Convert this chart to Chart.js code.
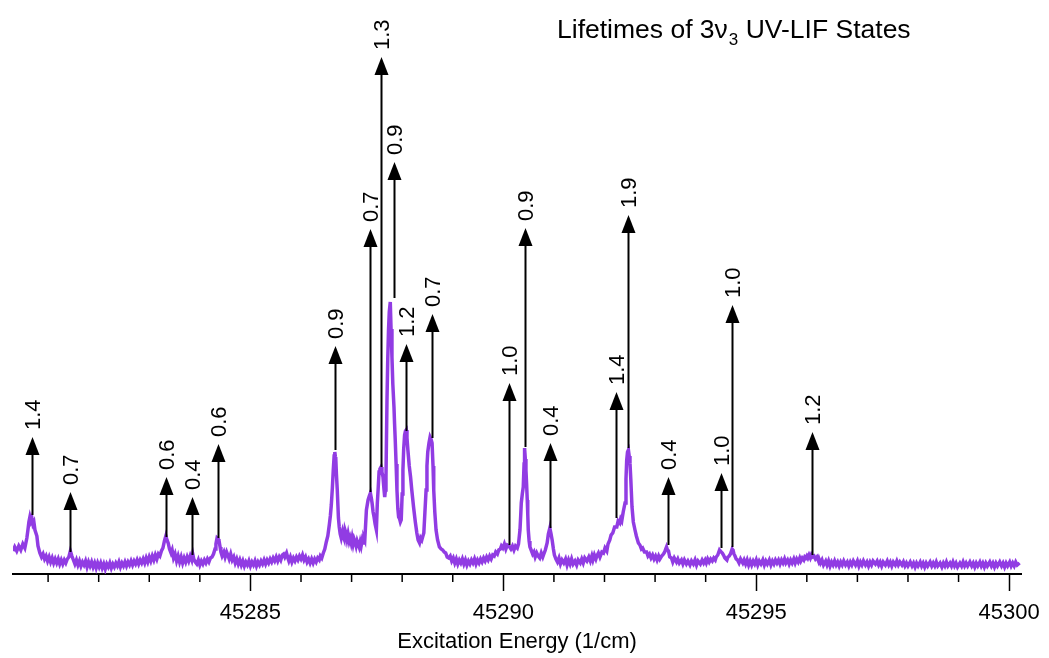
<!DOCTYPE html>
<html>
<head>
<meta charset="utf-8">
<script src="https://cdn.jsdelivr.net/npm/chart.js@4.4.1/dist/chart.umd.min.js"></script>
<style>
  html, body { margin: 0; padding: 0; background: #fff; }
  #wrap { width: 1049px; height: 658px; }
</style>
</head>
<body>
<div id="wrap"><canvas id="spec" width="1049" height="658"></canvas></div>
<script>
// LIF trace: [excitation energy (1/cm), signal (arb.)]
const spectrum = [
  [45280.306, 23], [45280.34, 27], [45280.38, 23], [45280.42, 28], [45280.46, 24], [45280.50, 30], [45280.54, 26], [45280.58, 36],
  [45280.601, 44], [45280.62, 52], [45280.640, 57], [45280.66, 53], [45280.679, 56], [45280.70, 50], [45280.719, 52], [45280.74, 44],
  [45280.778, 38], [45280.80, 28], [45280.837, 21], [45280.87, 17], [45280.90, 20], [45280.93, 15], [45280.96, 18], [45280.99, 13],
  [45281.02, 17], [45281.05, 12], [45281.08, 16], [45281.11, 11], [45281.14, 15], [45281.17, 11], [45281.20, 15], [45281.23, 10],
  [45281.26, 14], [45281.29, 10], [45281.32, 14], [45281.35, 11], [45281.38, 15], [45281.41, 17], [45281.440, 23], [45281.47, 18],
  [45281.50, 14], [45281.53, 10], [45281.56, 14], [45281.59, 9], [45281.62, 13], [45281.65, 8], [45281.68, 12], [45281.71, 9],
  [45281.74, 13], [45281.77, 7], [45281.80, 12], [45281.83, 8], [45281.86, 12], [45281.89, 7], [45281.92, 11], [45281.95, 6],
  [45281.98, 11], [45282.01, 7], [45282.04, 11], [45282.07, 6], [45282.10, 10], [45282.13, 5], [45282.16, 10], [45282.19, 7],
  [45282.22, 11], [45282.25, 6], [45282.28, 10], [45282.31, 7], [45282.34, 11], [45282.37, 8], [45282.40, 12], [45282.43, 7],
  [45282.46, 11], [45282.49, 8], [45282.52, 12], [45282.55, 8], [45282.58, 12], [45282.61, 9], [45282.64, 13], [45282.67, 9],
  [45282.70, 13], [45282.73, 10], [45282.76, 14], [45282.79, 10], [45282.82, 14], [45282.85, 11], [45282.88, 15], [45282.91, 11],
  [45282.94, 16], [45282.97, 12], [45283.00, 17], [45283.03, 13], [45283.06, 18], [45283.09, 14], [45283.12, 19], [45283.15, 15],
  [45283.18, 20], [45283.21, 18], [45283.24, 23], [45283.27, 26], [45283.30, 33], [45283.328, 38], [45283.35, 34], [45283.374, 31],
  [45283.40, 25], [45283.43, 21], [45283.452, 24], [45283.48, 16], [45283.51, 20], [45283.54, 13], [45283.57, 18], [45283.60, 12],
  [45283.63, 17], [45283.66, 11], [45283.69, 16], [45283.72, 12], [45283.75, 17], [45283.78, 13], [45283.81, 18], [45283.84, 14],
  [45283.86, 20], [45283.88, 15], [45283.91, 12], [45283.94, 10], [45283.97, 14], [45284.00, 9], [45284.03, 13], [45284.06, 10],
  [45284.09, 14], [45284.12, 11], [45284.15, 15], [45284.18, 12], [45284.21, 16], [45284.24, 17], [45284.27, 20], [45284.30, 25],
  [45284.318, 30], [45284.340, 36], [45284.36, 35], [45284.377, 34], [45284.40, 27], [45284.416, 22], [45284.44, 18], [45284.475, 22],
  [45284.50, 17], [45284.53, 22], [45284.553, 19], [45284.58, 15], [45284.61, 20], [45284.64, 14], [45284.67, 17], [45284.70, 11],
  [45284.73, 15], [45284.76, 10], [45284.79, 14], [45284.82, 9], [45284.85, 13], [45284.88, 8], [45284.91, 12], [45284.94, 9],
  [45284.97, 13], [45285.00, 8], [45285.03, 12], [45285.06, 9], [45285.09, 13], [45285.12, 8], [45285.15, 12], [45285.18, 9],
  [45285.21, 13], [45285.24, 10], [45285.27, 14], [45285.30, 10], [45285.33, 14], [45285.36, 11], [45285.39, 15], [45285.42, 12],
  [45285.45, 16], [45285.48, 13], [45285.51, 17], [45285.54, 13], [45285.57, 17], [45285.60, 14], [45285.63, 19], [45285.655, 20],
  [45285.68, 17], [45285.714, 21], [45285.74, 16], [45285.76, 13], [45285.79, 17], [45285.82, 12], [45285.85, 16], [45285.88, 13],
  [45285.91, 17], [45285.94, 14], [45285.97, 18], [45286.00, 15], [45286.03, 19], [45286.06, 14], [45286.09, 17], [45286.12, 12],
  [45286.15, 15], [45286.18, 11], [45286.21, 15], [45286.24, 11], [45286.27, 15], [45286.30, 12], [45286.33, 16], [45286.36, 14],
  [45286.382, 18], [45286.41, 16], [45286.441, 21], [45286.47, 25], [45286.500, 32], [45286.53, 38], [45286.559, 49], [45286.58, 58],
  [45286.599, 69], [45286.62, 86], [45286.638, 104], [45286.655, 118], [45286.668, 122], [45286.68, 117], [45286.687, 116], [45286.70, 100],
  [45286.717, 84], [45286.74, 56], [45286.756, 47], [45286.775, 40], [45286.795, 36], [45286.82, 42], [45286.84, 37], [45286.854, 35],
  [45286.87, 44], [45286.894, 40], [45286.91, 35], [45286.93, 40], [45286.953, 33], [45286.97, 36], [45286.992, 31], [45287.01, 36],
  [45287.03, 30], [45287.05, 35], [45287.071, 32], [45287.09, 28], [45287.11, 33], [45287.130, 30], [45287.15, 27], [45287.17, 32],
  [45287.189, 28], [45287.21, 34], [45287.23, 31], [45287.245, 36], [45287.261, 34], [45287.293, 64], [45287.326, 74], [45287.35, 78],
  [45287.372, 81], [45287.39, 76], [45287.405, 71], [45287.425, 62], [45287.444, 57], [45287.465, 50], [45287.490, 44], [45287.509, 71],
  [45287.525, 85], [45287.543, 102], [45287.56, 105], [45287.582, 107], [45287.60, 102], [45287.621, 97], [45287.64, 85], [45287.655, 77],
  [45287.668, 84], [45287.680, 97], [45287.700, 174], [45287.715, 215], [45287.730, 244], [45287.745, 262], [45287.765, 272], [45287.78, 245],
  [45287.798, 217], [45287.815, 190], [45287.838, 167], [45287.85, 150], [45287.863, 134], [45287.88, 110], [45287.897, 84], [45287.915, 65],
  [45287.930, 57], [45287.95, 55], [45287.965, 52], [45287.981, 54], [45288.00, 80], [45288.015, 104], [45288.03, 125], [45288.048, 139],
  [45288.065, 143], [45288.080, 144], [45288.095, 136], [45288.113, 124], [45288.14, 108], [45288.166, 97], [45288.19, 84], [45288.225, 67],
  [45288.26, 52], [45288.290, 41], [45288.315, 34], [45288.343, 31], [45288.365, 36], [45288.388, 34], [45288.41, 38], [45288.428, 41],
  [45288.45, 62], [45288.473, 84], [45288.49, 108], [45288.506, 122], [45288.53, 131], [45288.552, 137], [45288.57, 135], [45288.591, 131],
  [45288.61, 108], [45288.624, 84], [45288.645, 62], [45288.670, 44], [45288.70, 34], [45288.736, 27], [45288.77, 25], [45288.801, 24],
  [45288.83, 22], [45288.860, 21], [45288.89, 17], [45288.92, 16], [45288.95, 18], [45288.98, 13], [45289.01, 16], [45289.04, 11],
  [45289.07, 15], [45289.10, 10], [45289.13, 14], [45289.16, 11], [45289.19, 15], [45289.22, 10], [45289.25, 14], [45289.28, 9],
  [45289.31, 13], [45289.34, 10], [45289.37, 14], [45289.40, 11], [45289.43, 15], [45289.46, 10], [45289.49, 14], [45289.52, 11],
  [45289.55, 15], [45289.58, 12], [45289.61, 16], [45289.64, 13], [45289.67, 17], [45289.70, 14], [45289.73, 18], [45289.76, 15],
  [45289.79, 19], [45289.82, 18], [45289.85, 22], [45289.883, 20], [45289.91, 24], [45289.94, 25], [45289.962, 28], [45289.99, 26],
  [45290.02, 30], [45290.05, 25], [45290.08, 29], [45290.113, 28], [45290.15, 25], [45290.18, 28], [45290.21, 24], [45290.24, 28],
  [45290.276, 26], [45290.30, 30], [45290.329, 44], [45290.345, 60], [45290.355, 71], [45290.375, 80], [45290.394, 87], [45290.41, 110],
  [45290.420, 126], [45290.435, 115], [45290.447, 104], [45290.46, 90], [45290.473, 74], [45290.483, 60], [45290.493, 44], [45290.51, 33],
  [45290.526, 27], [45290.55, 24], [45290.58, 20], [45290.605, 22], [45290.63, 17], [45290.66, 21], [45290.689, 18], [45290.72, 16],
  [45290.75, 21], [45290.78, 17], [45290.801, 20], [45290.83, 24], [45290.866, 31], [45290.89, 40], [45290.919, 46], [45290.94, 41],
  [45290.965, 34], [45290.99, 25], [45291.01, 19], [45291.04, 15], [45291.07, 12], [45291.10, 16], [45291.13, 10], [45291.16, 14],
  [45291.195, 11], [45291.23, 15], [45291.26, 9], [45291.29, 14], [45291.32, 10], [45291.35, 15], [45291.38, 10], [45291.417, 13],
  [45291.45, 9], [45291.48, 14], [45291.521, 11], [45291.55, 15], [45291.58, 11], [45291.61, 16], [45291.653, 13], [45291.69, 17],
  [45291.72, 13], [45291.75, 18], [45291.771, 14], [45291.80, 19], [45291.83, 15], [45291.849, 18], [45291.88, 21], [45291.91, 17],
  [45291.948, 22], [45291.98, 21], [45292.01, 26], [45292.046, 23], [45292.07, 30], [45292.105, 34], [45292.13, 39], [45292.164, 41],
  [45292.20, 47], [45292.243, 47], [45292.27, 53], [45292.302, 51], [45292.32, 55], [45292.341, 53], [45292.37, 62], [45292.406, 71],
  [45292.425, 95], [45292.439, 114], [45292.455, 122], [45292.473, 124], [45292.488, 118], [45292.504, 111], [45292.52, 95], [45292.544, 67],
  [45292.57, 52], [45292.603, 44], [45292.63, 38], [45292.670, 31], [45292.70, 29], [45292.73, 25], [45292.754, 26], [45292.79, 22],
  [45292.833, 22], [45292.86, 18], [45292.89, 20], [45292.92, 16], [45292.951, 19], [45292.98, 15], [45293.01, 18], [45293.04, 14],
  [45293.07, 18], [45293.094, 15], [45293.13, 18], [45293.167, 20], [45293.19, 22], [45293.21, 25], [45293.226, 27], [45293.245, 24],
  [45293.265, 23], [45293.29, 17], [45293.324, 16], [45293.35, 12], [45293.38, 16], [45293.423, 12], [45293.45, 15], [45293.48, 11],
  [45293.521, 14], [45293.55, 10], [45293.58, 14], [45293.619, 10], [45293.65, 13], [45293.69, 9], [45293.72, 13], [45293.757, 10],
  [45293.79, 14], [45293.82, 9], [45293.85, 13], [45293.895, 10], [45293.93, 14], [45293.96, 11], [45293.99, 14], [45294.013, 11],
  [45294.04, 15], [45294.07, 12], [45294.10, 15], [45294.131, 13], [45294.16, 16], [45294.19, 14], [45294.209, 17], [45294.24, 19],
  [45294.260, 22], [45294.274, 24], [45294.290, 23], [45294.308, 22], [45294.330, 21], [45294.353, 19], [45294.38, 16], [45294.40, 15],
  [45294.420, 14], [45294.44, 17], [45294.465, 18], [45294.49, 20], [45294.51, 23], [45294.524, 25], [45294.54, 24], [45294.56, 20],
  [45294.58, 18], [45294.603, 15], [45294.63, 14], [45294.66, 11], [45294.69, 15], [45294.734, 11], [45294.76, 14], [45294.79, 10],
  [45294.82, 14], [45294.85, 9], [45294.88, 13], [45294.91, 9], [45294.94, 13], [45294.97, 10], [45295.00, 14], [45295.03, 9],
  [45295.06, 13], [45295.094, 10], [45295.13, 14], [45295.16, 9], [45295.19, 13], [45295.22, 10], [45295.258, 14], [45295.29, 9],
  [45295.32, 13], [45295.35, 10], [45295.38, 14], [45295.41, 11], [45295.44, 14], [45295.47, 10], [45295.50, 14], [45295.53, 11],
  [45295.56, 15], [45295.586, 11], [45295.62, 14], [45295.65, 10], [45295.68, 14], [45295.71, 11], [45295.743, 15], [45295.77, 11],
  [45295.80, 15], [45295.83, 12], [45295.86, 16], [45295.881, 13], [45295.91, 16], [45295.94, 14], [45295.96, 17], [45295.979, 16],
  [45296.00, 18], [45296.02, 16], [45296.044, 19], [45296.07, 16], [45296.09, 19], [45296.11, 17], [45296.142, 18], [45296.17, 15],
  [45296.20, 17], [45296.23, 13], [45296.241, 15], [45296.27, 11], [45296.30, 14], [45296.33, 9], [45296.373, 13], [45296.40, 9],
  [45296.43, 13], [45296.46, 8], [45296.49, 12], [45296.52, 9], [45296.55, 13], [45296.58, 9], [45296.61, 12], [45296.64, 8],
  [45296.67, 12], [45296.70, 9], [45296.73, 13], [45296.766, 9], [45296.80, 12], [45296.83, 8], [45296.86, 12], [45296.89, 9],
  [45296.92, 13], [45296.963, 9], [45297.00, 13], [45297.03, 8], [45297.06, 12], [45297.09, 9], [45297.12, 13], [45297.159, 9],
  [45297.19, 12], [45297.22, 8], [45297.25, 12], [45297.28, 9], [45297.31, 13], [45297.356, 10], [45297.39, 13], [45297.42, 9],
  [45297.45, 12], [45297.48, 8], [45297.51, 12], [45297.553, 9], [45297.59, 13], [45297.62, 9], [45297.65, 12], [45297.68, 8],
  [45297.71, 12], [45297.749, 9], [45297.78, 13], [45297.81, 9], [45297.84, 12], [45297.881, 9], [45297.91, 12], [45297.94, 8],
  [45297.97, 11], [45298.00, 8], [45298.044, 12], [45298.08, 8], [45298.11, 11], [45298.14, 7], [45298.17, 11], [45298.20, 8],
  [45298.241, 12], [45298.27, 8], [45298.30, 11], [45298.33, 7], [45298.36, 11], [45298.39, 8], [45298.437, 12], [45298.47, 8],
  [45298.50, 11], [45298.53, 8], [45298.56, 12], [45298.59, 8], [45298.634, 11], [45298.67, 7], [45298.70, 11], [45298.73, 8],
  [45298.76, 12], [45298.79, 8], [45298.831, 11], [45298.86, 8], [45298.89, 12], [45298.92, 8], [45298.95, 11], [45298.98, 7],
  [45299.027, 11], [45299.06, 8], [45299.09, 12], [45299.12, 8], [45299.15, 11], [45299.18, 8], [45299.224, 12], [45299.26, 8],
  [45299.29, 11], [45299.32, 7], [45299.35, 11], [45299.38, 8], [45299.421, 12], [45299.45, 8], [45299.48, 11], [45299.51, 7],
  [45299.54, 11], [45299.57, 8], [45299.617, 12], [45299.65, 8], [45299.68, 11], [45299.71, 7], [45299.74, 11], [45299.77, 8],
  [45299.814, 12], [45299.85, 8], [45299.88, 11], [45299.91, 7], [45299.94, 11], [45299.97, 8], [45300.011, 12], [45300.04, 8],
  [45300.07, 11], [45300.10, 8], [45300.13, 12], [45300.16, 9], [45300.207, 11]
];
const energy = spectrum.map(p => p[0]);
const signal = spectrum.map(p => p[1]);

// lifetime markers: position, arrow foot (on the peak), arrow tip, label
const arrowEnergy = [45280.685, 45281.440, 45283.328, 45283.851, 45284.363, 45286.668, 45287.356, 45287.582, 45287.838, 45288.083,
                     45288.591, 45290.113, 45290.428, 45290.931, 45292.223, 45292.459, 45293.246, 45294.308, 45294.524, 45296.111];
const arrowFoot   = [59, 22, 37, 19, 36, 124, 82, 107, 276, 143, 136, 29, 127, 46, 56, 126, 29, 26, 27, 19];
const arrowTip    = [137, 82, 97, 77, 130, 228, 345, 517, 412, 230, 260, 191, 346, 131, 182, 359, 97, 101, 269, 142];
const lifetimes   = ['1.4', '0.7', '0.6', '0.4', '0.6', '0.9', '0.7', '1.3', '0.9', '1.2',
                     '0.7', '1.0', '0.9', '0.4', '1.4', '1.9', '0.4', '1.0', '1.0', '1.2'];

const majorStep = 5;
const FONT = '"Liberation Sans", Arial, Helvetica, sans-serif';

function isMajor(v) {
    return Math.abs(v - Math.round(v / majorStep) * majorStep) < 1e-6;
}

// arrows + rotated lifetime labels
const arrowPlugin = {
    id: 'arrows',
    afterDatasetsDraw(chart) {
        const {ctx, scales: {x, y}} = chart;
        ctx.save();
        ctx.strokeStyle = '#000';
        ctx.fillStyle = '#000';
        ctx.lineWidth = 2;
        arrowEnergy.forEach((e, i) => {
            const px = Math.round(x.getPixelForValue(e)) + 0.5;
            const foot = y.getPixelForValue(arrowFoot[i]);
            const tip = y.getPixelForValue(arrowTip[i]);
            ctx.beginPath();
            ctx.moveTo(px, foot);
            ctx.lineTo(px, tip + 14);
            ctx.stroke();
            ctx.beginPath();
            ctx.moveTo(px, tip);
            ctx.lineTo(px - 7, tip + 18);
            ctx.lineTo(px + 7, tip + 18);
            ctx.closePath();
            ctx.fill();

            ctx.save();
            ctx.translate(px, tip - 7);
            ctx.rotate(-Math.PI / 2);
            ctx.font = '22px ' + FONT;
            ctx.textAlign = 'left';
            ctx.textBaseline = 'middle';
            ctx.fillText(lifetimes[i], 0, 1);
            ctx.restore();
        });
        ctx.restore();
    }
};

// minor tick marks (major ones come from the axis itself)
const minorTickPlugin = {
    id: 'minorTicks',
    afterDraw(chart) {
        const {ctx, scales: {x}} = chart;
        ctx.save();
        ctx.strokeStyle = '#000';
        ctx.lineWidth = 1.5;
        x.ticks.forEach((t, i) => {
            if (isMajor(t.value)) return;
            const px = x.getPixelForTick(i);
            ctx.beginPath();
            ctx.moveTo(px, x.top);
            ctx.lineTo(px, x.top + 8);
            ctx.stroke();
        });
        ctx.restore();
    }
};

// title with subscript
const titlePlugin = {
    id: 'subTitle',
    afterDraw(chart) {
        const ctx = chart.ctx;
        ctx.save();
        ctx.fillStyle = '#000';
        ctx.textBaseline = 'alphabetic';
        ctx.textAlign = 'left';
        let tx = 557;
        const by = 38;
        ctx.font = '26.5px ' + FONT;
        ctx.fillText('Lifetimes of 3\u03BD', tx, by);
        tx += ctx.measureText('Lifetimes of 3\u03BD').width + 1;
        ctx.font = '17px ' + FONT;
        ctx.fillText('3', tx, by + 7);
        tx += ctx.measureText('3').width;
        ctx.font = '26.5px ' + FONT;
        ctx.fillText(' UV-LIF States', tx, by);
        ctx.restore();
    }
};

const chart = new Chart(document.getElementById('spec'), {
    type: 'line',
    data: {
        datasets: [{
            data: energy.map((e, i) => ({x: e, y: signal[i]})),
            borderColor: '#913CE3',
            borderWidth: 3.5,
            pointRadius: 0,
            tension: 0,
            fill: false
        }]
    },
    options: {
        responsive: false,
        animation: false,
        layout: { padding: { left: 13, right: 23, top: 14, bottom: 0 } },
        plugins: { legend: { display: false }, tooltip: { enabled: false } },
        scales: {
            x: {
                type: 'linear',
                min: 45280.306,
                max: 45300.236,
                afterFit: (s) => { s.height = 84; },
                ticks: {
                    stepSize: 1,
                    autoSkip: false,
                    includeBounds: false,
                    maxRotation: 0,
                    padding: 9,
                    color: '#000',
                    font: { family: FONT, size: 22 },
                    callback: (v) => isMajor(v) ? String(Math.round(v)) : ''
                },
                grid: {
                    drawOnChartArea: false,
                    drawTicks: true,
                    tickLength: 17,
                    tickWidth: 1.5,
                    tickColor: (c) => (c.tick && isMajor(c.tick.value)) ? '#000' : 'rgba(0,0,0,0)'
                },
                border: { display: true, color: '#000', width: 2 },
                title: {
                    display: true,
                    text: 'Excitation Energy (1/cm)',
                    color: '#000',
                    font: { family: FONT, size: 22 },
                    padding: { top: 2, bottom: 3 }
                }
            },
            y: { display: false, min: 0, max: 560 }
        }
    },
    plugins: [arrowPlugin, minorTickPlugin, titlePlugin]
});
</script>
</body>
</html>
